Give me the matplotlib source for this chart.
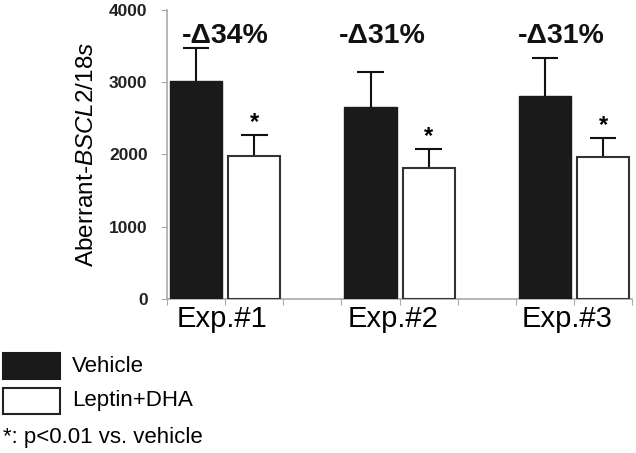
import matplotlib
matplotlib.use("Agg")
import matplotlib.pyplot as plt
from matplotlib.patches import Rectangle
import numpy as np

plt.rcParams['font.family'] = ['Liberation Sans', 'DejaVu Sans']
plt.rcParams['mathtext.fontset'] = 'custom'
plt.rcParams['mathtext.rm'] = 'Liberation Sans'
plt.rcParams['mathtext.it'] = 'Liberation Sans:italic'

experiments = ["Exp.#1", "Exp.#2", "Exp.#3"]
vehicle = [3010, 2660, 2810]
vehicle_err = [460, 485, 520]
leptin_dha = [1980, 1810, 1970]
leptin_dha_err = [290, 265, 255]
changes = ["-\u039434%", "-\u039431%", "-\u039431%"]

fig = plt.figure(figsize=(6.36, 4.53), dpi=100)
ax = fig.add_axes([0.2626, 0.34, 0.7314, 0.638])

idx = np.arange(len(experiments))
x_veh = 3 * idx + 0.5
x_lep = 3 * idx + 1.5

ax.bar(x_veh, vehicle, width=0.9, color="#1a1a1a", edgecolor="#1a1a1a", zorder=3)
ax.bar(x_lep, leptin_dha, width=0.9, color="white", edgecolor="#333333",
       linewidth=1.5, zorder=3)

# upper-only error bars
for xs, vals, errs in [(x_veh, vehicle, vehicle_err), (x_lep, leptin_dha, leptin_dha_err)]:
    tops = np.array(vals) + np.array(errs)
    ax.vlines(xs, vals, tops, color="#111111", linewidth=1.5, zorder=2)
    ax.hlines(tops, xs - 0.23, xs + 0.23, color="#111111", linewidth=1.5, zorder=2)

# significance stars
for xi, v, e in zip(x_lep, leptin_dha, leptin_dha_err):
    ax.text(xi, v + e + 20, "*", ha="center", va="bottom", fontsize=17,
            fontweight="bold")

# percent change labels
for i, lab in enumerate(changes):
    ax.text(3 * i + 1 + [0.0, -0.3, -0.22][i], 3640, lab, ha="center",
            va="center", fontsize=20.5, fontweight="bold", color="#111111")

ax.set_xlim(0, 8)
ax.set_ylim(0, 4000)
ax.set_yticks([0, 1000, 2000, 3000, 4000])
ax.set_yticklabels(["0", "1000", "2000", "3000", "4000"], fontsize=12.5,
                   fontweight="bold", color="#222222")
ax.set_xticks(np.arange(0, 9))
ax.set_xticklabels([])
ax.set_xticks([3 * i + 1 - [0.05, 0.11, 0.12][i] for i in idx], minor=True)
ax.set_xticklabels(experiments, minor=True, fontsize=21)
ax.tick_params(axis="x", which="minor", length=0, pad=4)
ax.tick_params(axis="x", which="major", length=4, color="#aaaaaa", direction="out")
ax.tick_params(axis="y", length=4, color="#aaaaaa", direction="out", pad=10)

for s in ["top", "right"]:
    ax.spines[s].set_visible(False)
for s in ["left", "bottom"]:
    ax.spines[s].set_color("#aaaaaa")
    ax.spines[s].set_linewidth(1.2)

ax.set_ylabel("Aberrant-$\\it{BSCL2/18s}$", fontsize=17.5, labelpad=8)

# legend drawn in figure coords
fig.patches.append(Rectangle((0.0047, 0.1634), 0.0896, 0.0574, facecolor="#1a1a1a",
                             edgecolor="#1a1a1a", linewidth=1.5,
                             transform=fig.transFigure, figure=fig))
fig.patches.append(Rectangle((0.0047, 0.0861), 0.0896, 0.0574, facecolor="white",
                             edgecolor="#222222", linewidth=1.5,
                             transform=fig.transFigure, figure=fig))
fig.text(0.113, 0.192, "Vehicle", fontsize=16, va="center")
fig.text(0.113, 0.115, "Leptin+DHA", fontsize=16, va="center")
fig.text(0.005, 0.035, "*: p<0.01 vs. vehicle", fontsize=16, va="center")

fig.savefig("out.png", dpi=100)
